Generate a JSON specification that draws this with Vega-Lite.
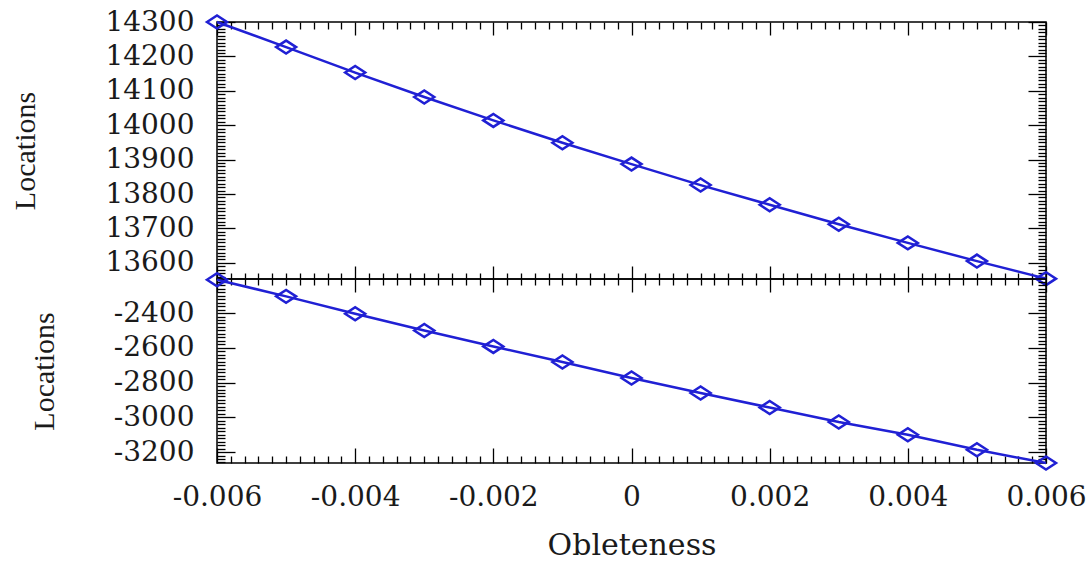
{
  "$schema": "https://vega.github.io/schema/vega-lite/v6.json",
  "padding": {"left": 10, "top": 7, "right": 10, "bottom": 0},
  "spacing": 0,
  "bounds": "flush",
  "background": "white",
  "config": {
    "view": {"stroke": "black", "strokeWidth": 1.5},
    "axis": {
      "grid": false,
      "domainColor": "black",
      "domainWidth": 1.5,
      "tickColor": "black",
      "tickWidth": 1.3,
      "labelFont": "DejaVu Serif",
      "labelFontSize": 28,
      "labelColor": "#1a1a1a",
      "labelOverlap": false,
      "labelBound": false,
      "labelFlush": false,
      "titleFont": "Liberation Serif",
      "titleFontSize": 30,
      "titleFontWeight": "normal",
      "titleColor": "#1a1a1a"
    }
  },
  "datasets": {
    "upper": [
      {"obleteness": -0.006, "location": 14300},
      {"obleteness": -0.005, "location": 14227},
      {"obleteness": -0.004, "location": 14153},
      {"obleteness": -0.003, "location": 14082},
      {"obleteness": -0.002, "location": 14014},
      {"obleteness": -0.001, "location": 13949},
      {"obleteness": 0, "location": 13887},
      {"obleteness": 0.001, "location": 13826},
      {"obleteness": 0.002, "location": 13769},
      {"obleteness": 0.003, "location": 13712},
      {"obleteness": 0.004, "location": 13658},
      {"obleteness": 0.005, "location": 13605},
      {"obleteness": 0.006, "location": 13554}
    ],
    "lower": [
      {"obleteness": -0.006, "location": -2208},
      {"obleteness": -0.005, "location": -2304},
      {"obleteness": -0.004, "location": -2404},
      {"obleteness": -0.003, "location": -2500},
      {"obleteness": -0.002, "location": -2592},
      {"obleteness": -0.001, "location": -2682},
      {"obleteness": 0, "location": -2774},
      {"obleteness": 0.001, "location": -2860},
      {"obleteness": 0.002, "location": -2944},
      {"obleteness": 0.003, "location": -3027},
      {"obleteness": 0.004, "location": -3100},
      {"obleteness": 0.005, "location": -3187},
      {"obleteness": 0.006, "location": -3263}
    ]
  },
  "vconcat": [
    {
      "width": 829,
      "height": 257,
      "data": {"name": "upper"},
      "layer": [
        {
          "mark": {"type": "line", "color": "#2020d4", "strokeWidth": 2.5},
          "encoding": {
            "x": {
              "field": "obleteness", "type": "quantitative",
              "scale": {"domain": [-0.006, 0.006], "nice": false, "zero": false},
              "axis": {
                "orient": "bottom", "title": null, "labels": false, "domain": false,
                "values": [-0.006,-0.0058,-0.0056,-0.0054,-0.0052,-0.005,-0.0048,-0.0046,-0.0044,-0.0042,-0.004,-0.0038,-0.0036,-0.0034,-0.0032,-0.003,-0.0028,-0.0026,-0.0024,-0.0022,-0.002,-0.0018,-0.0016,-0.0014,-0.0012,-0.001,-0.0008,-0.0006,-0.0004,-0.0002,0,0.0002,0.0004,0.0006,0.0008,0.001,0.0012,0.0014,0.0016,0.0018,0.002,0.0022,0.0024,0.0026,0.0028,0.003,0.0032,0.0034,0.0036,0.0038,0.004,0.0042,0.0044,0.0046,0.0048,0.005,0.0052,0.0054,0.0056,0.0058,0.006],
                "tickSize": {"condition": {"test": "abs(datum.value*500 - round(datum.value*500)) < 0.001", "value": -13}, "value": -6}
              }
            },
            "y": {
              "field": "location", "type": "quantitative",
              "scale": {"domain": [13553, 14300], "nice": false, "zero": false},
              "axis": {
                "orient": "left", "title": "Locations", "titlePadding": 64, "domain": false,
                "labelPadding": 41,
                "values": [13560,13570,13580,13590,13600,13610,13620,13630,13640,13650,13660,13670,13680,13690,13700,13710,13720,13730,13740,13750,13760,13770,13780,13790,13800,13810,13820,13830,13840,13850,13860,13870,13880,13890,13900,13910,13920,13930,13940,13950,13960,13970,13980,13990,14000,14010,14020,14030,14040,14050,14060,14070,14080,14090,14100,14110,14120,14130,14140,14150,14160,14170,14180,14190,14200,14210,14220,14230,14240,14250,14260,14270,14280,14290,14300],
                "labelExpr": "datum.value % 100 === 0 ? format(datum.value, 'd') : ''",
                "tickSize": {"condition": {"test": "datum.value % 100 === 0", "value": -18}, "value": -8}
              }
            }
          }
        },
        {
          "mark": {"type": "point", "shape": "M-1,0L0,-0.65L1,0L0,0.65Z", "size": 400, "filled": false, "strokeWidth": 2.5, "color": "#2020d4", "opacity": 1},
          "encoding": {
            "x": {
              "field": "obleteness", "type": "quantitative",
              "scale": {"domain": [-0.006, 0.006], "nice": false, "zero": false},
              "axis": {
                "orient": "top", "title": null, "labels": false, "domain": false,
                "values": [-0.006,-0.0058,-0.0056,-0.0054,-0.0052,-0.005,-0.0048,-0.0046,-0.0044,-0.0042,-0.004,-0.0038,-0.0036,-0.0034,-0.0032,-0.003,-0.0028,-0.0026,-0.0024,-0.0022,-0.002,-0.0018,-0.0016,-0.0014,-0.0012,-0.001,-0.0008,-0.0006,-0.0004,-0.0002,0,0.0002,0.0004,0.0006,0.0008,0.001,0.0012,0.0014,0.0016,0.0018,0.002,0.0022,0.0024,0.0026,0.0028,0.003,0.0032,0.0034,0.0036,0.0038,0.004,0.0042,0.0044,0.0046,0.0048,0.005,0.0052,0.0054,0.0056,0.0058,0.006],
                "tickSize": {"condition": {"test": "abs(datum.value*500 - round(datum.value*500)) < 0.001", "value": -13}, "value": -7}
              }
            },
            "y": {
              "field": "location", "type": "quantitative",
              "scale": {"domain": [13553, 14300], "nice": false, "zero": false},
              "axis": {
                "orient": "right", "title": null, "labels": false, "domain": false,
                "values": [13560,13570,13580,13590,13600,13610,13620,13630,13640,13650,13660,13670,13680,13690,13700,13710,13720,13730,13740,13750,13760,13770,13780,13790,13800,13810,13820,13830,13840,13850,13860,13870,13880,13890,13900,13910,13920,13930,13940,13950,13960,13970,13980,13990,14000,14010,14020,14030,14040,14050,14060,14070,14080,14090,14100,14110,14120,14130,14140,14150,14160,14170,14180,14190,14200,14210,14220,14230,14240,14250,14260,14270,14280,14290,14300],
                "tickSize": {"condition": {"test": "datum.value % 100 === 0", "value": -18}, "value": -8}
              }
            }
          }
        }
      ],
      "resolve": {"axis": {"x": "independent", "y": "independent"}}
    },
    {
      "width": 829,
      "height": 184,
      "data": {"name": "lower"},
      "layer": [
        {
          "mark": {"type": "line", "color": "#2020d4", "strokeWidth": 2.5},
          "encoding": {
            "x": {
              "field": "obleteness", "type": "quantitative",
              "scale": {"domain": [-0.006, 0.006], "nice": false, "zero": false},
              "axis": {
                "orient": "bottom", "title": "Obleteness", "titleFont": "DejaVu Serif", "titlePadding": 11, "domain": false,
                "labelPadding": 35,
                "values": [-0.006,-0.0058,-0.0056,-0.0054,-0.0052,-0.005,-0.0048,-0.0046,-0.0044,-0.0042,-0.004,-0.0038,-0.0036,-0.0034,-0.0032,-0.003,-0.0028,-0.0026,-0.0024,-0.0022,-0.002,-0.0018,-0.0016,-0.0014,-0.0012,-0.001,-0.0008,-0.0006,-0.0004,-0.0002,0,0.0002,0.0004,0.0006,0.0008,0.001,0.0012,0.0014,0.0016,0.0018,0.002,0.0022,0.0024,0.0026,0.0028,0.003,0.0032,0.0034,0.0036,0.0038,0.004,0.0042,0.0044,0.0046,0.0048,0.005,0.0052,0.0054,0.0056,0.0058,0.006],
                "labelExpr": "abs(datum.value*500 - round(datum.value*500)) < 0.001 ? (abs(datum.value) < 1e-9 ? '0' : (datum.value < 0 ? '-' : '') + format(abs(datum.value), '.3f')) : ''",
                "tickSize": {"condition": {"test": "abs(datum.value*500 - round(datum.value*500)) < 0.001", "value": -15}, "value": -7}
              }
            },
            "y": {
              "field": "location", "type": "quantitative",
              "scale": {"domain": [-3263, -2204], "nice": false, "zero": false},
              "axis": {
                "orient": "left", "title": "Locations", "titlePadding": 54, "domain": false,
                "labelPadding": 41,
                "values": [-3260,-3240,-3220,-3200,-3180,-3160,-3140,-3120,-3100,-3080,-3060,-3040,-3020,-3000,-2980,-2960,-2940,-2920,-2900,-2880,-2860,-2840,-2820,-2800,-2780,-2760,-2740,-2720,-2700,-2680,-2660,-2640,-2620,-2600,-2580,-2560,-2540,-2520,-2500,-2480,-2460,-2440,-2420,-2400,-2380,-2360,-2340,-2320,-2300,-2280,-2260,-2240,-2220],
                "labelExpr": "datum.value % 200 === 0 ? '-' + format(abs(datum.value), 'd') : ''",
                "tickSize": {"condition": {"test": "datum.value % 200 === 0", "value": -18}, "value": -8}
              }
            }
          }
        },
        {
          "mark": {"type": "point", "shape": "M-1,0L0,-0.65L1,0L0,0.65Z", "size": 400, "filled": false, "strokeWidth": 2.5, "color": "#2020d4", "opacity": 1},
          "encoding": {
            "x": {
              "field": "obleteness", "type": "quantitative",
              "scale": {"domain": [-0.006, 0.006], "nice": false, "zero": false},
              "axis": {
                "orient": "top", "title": null, "labels": false, "domain": false,
                "values": [-0.006,-0.0058,-0.0056,-0.0054,-0.0052,-0.005,-0.0048,-0.0046,-0.0044,-0.0042,-0.004,-0.0038,-0.0036,-0.0034,-0.0032,-0.003,-0.0028,-0.0026,-0.0024,-0.0022,-0.002,-0.0018,-0.0016,-0.0014,-0.0012,-0.001,-0.0008,-0.0006,-0.0004,-0.0002,0,0.0002,0.0004,0.0006,0.0008,0.001,0.0012,0.0014,0.0016,0.0018,0.002,0.0022,0.0024,0.0026,0.0028,0.003,0.0032,0.0034,0.0036,0.0038,0.004,0.0042,0.0044,0.0046,0.0048,0.005,0.0052,0.0054,0.0056,0.0058,0.006],
                "tickSize": {"condition": {"test": "abs(datum.value*500 - round(datum.value*500)) < 0.001", "value": -13}, "value": -6}
              }
            },
            "y": {
              "field": "location", "type": "quantitative",
              "scale": {"domain": [-3263, -2204], "nice": false, "zero": false},
              "axis": {
                "orient": "right", "title": null, "labels": false, "domain": false,
                "values": [-3260,-3240,-3220,-3200,-3180,-3160,-3140,-3120,-3100,-3080,-3060,-3040,-3020,-3000,-2980,-2960,-2940,-2920,-2900,-2880,-2860,-2840,-2820,-2800,-2780,-2760,-2740,-2720,-2700,-2680,-2660,-2640,-2620,-2600,-2580,-2560,-2540,-2520,-2500,-2480,-2460,-2440,-2420,-2400,-2380,-2360,-2340,-2320,-2300,-2280,-2260,-2240,-2220],
                "tickSize": {"condition": {"test": "datum.value % 200 === 0", "value": -18}, "value": -8}
              }
            }
          }
        }
      ],
      "resolve": {"axis": {"x": "independent", "y": "independent"}}
    }
  ]
}
